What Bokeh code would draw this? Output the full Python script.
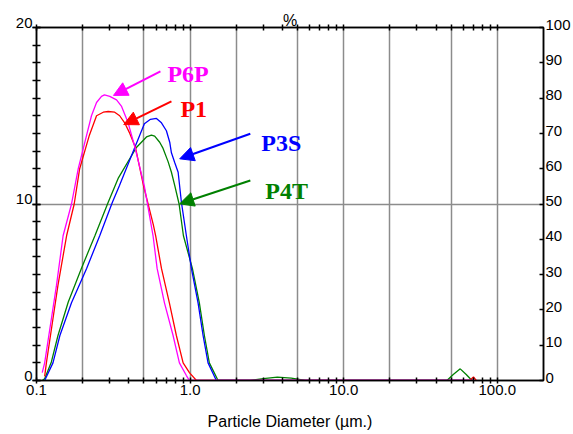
from bokeh.plotting import figure
from bokeh.models import (FixedTicker, LogAxis, LinearAxis, Range1d, Arrow, NormalHead,
                          ColumnDataSource, PrintfTickFormatter)
from bokeh.core.properties import value
from bokeh.embed import file_html
from bokeh.resources import INLINE

# ---------------- data ----------------
X_MIN, X_MAX = 0.1, 200.0
LEFT_MIN, LEFT_MAX = 0, 20
RIGHT_MIN, RIGHT_MAX = 0, 100

x_major_ticks = [0.1, 1.0, 10.0, 100.0]
x_minor_ticks = [0.2, 0.3, 0.4, 0.5, 0.6, 0.7, 0.8, 0.9,
                 2, 3, 4, 5, 6, 7, 8, 9,
                 20, 30, 40, 50, 60, 70, 80, 90]
x_grid_ticks = [0.2, 0.5, 1, 2, 5, 10, 20, 50, 100]
left_ticks = [0, 10, 20]
left_labels = ["0", "10", "20"]
left_minor = list(range(0, 21))
right_ticks = [0, 10, 20, 30, 40, 50, 60, 70, 80, 90, 100]
right_labels = ["0", "10", "20", "30", "40", "50", "60", "70", "80", "90", "100"]
y_grid_ticks = [10]

# P6P (magenta)
p6p_d = [0.109, 0.113, 0.125, 0.135, 0.149, 0.169, 0.187, 0.212, 0.228, 0.246, 0.265, 0.277,
         0.300, 0.332, 0.357, 0.395, 0.441, 0.504, 0.574, 0.610, 0.681, 0.775, 0.852, 0.946,
         0.990, 70.0]
p6p_v = [0.45, 1.0, 3.5, 5.4, 8.2, 10.0, 12.0, 13.9, 15.0, 15.75, 16.1, 16.18,
         16.1, 15.9, 15.55, 14.6, 13.1, 11.0, 8.2, 6.35, 4.4, 2.55, 1.0, 0.28,
         0.0, 0.0]
# P1 (red)
p1_d = [0.113, 0.116, 0.128, 0.138, 0.157, 0.176, 0.191, 0.221, 0.246, 0.272, 0.293, 0.323,
        0.348, 0.375, 0.405, 0.441, 0.497, 0.577, 0.597, 0.651, 0.733, 0.814, 0.901, 0.990,
        1.10, 66.0, 70.0, 73.0]
p1_v = [0.23, 1.0, 3.5, 5.4, 8.2, 10.0, 12.0, 13.9, 15.0, 15.2, 15.24, 15.2,
        15.0, 14.6, 14.0, 13.2, 11.05, 8.8, 8.2, 6.35, 4.4, 2.55, 1.0, 0.45,
        0.0, 0.0, 0.2, 0.0]
# P3S (blue)
p3s_d = [0.113, 0.128, 0.142, 0.169, 0.212, 0.258, 0.312, 0.347, 0.441, 0.504, 0.552, 0.604,
         0.651, 0.701, 0.737, 0.756, 0.794, 0.836, 0.878, 0.946, 1.020, 1.127, 1.215, 1.309,
         1.483, 70.0]
p3s_v = [0.0, 1.0, 2.55, 4.4, 6.35, 8.2, 10.1, 11.05, 13.3, 14.55, 14.8, 14.85,
         14.6, 14.15, 13.5, 12.9, 12.35, 11.8, 10.1, 8.2, 6.35, 4.4, 2.55, 1.0,
         0.0, 0.0]
# P4T (green)
p4t_d = [0.109, 0.113, 0.125, 0.138, 0.161, 0.196, 0.240, 0.293, 0.340, 0.447, 0.520, 0.560,
         0.588, 0.634, 0.667, 0.719, 0.756, 0.794, 0.848, 0.905, 1.035, 1.149, 1.239, 1.335,
         1.521, 2.47, 3.0, 3.7, 4.56, 5.63, 47.0, 51.7, 57.4, 62.8, 68.4, 70.0]
p4t_v = [0.0, 0.1, 1.05, 2.55, 4.45, 6.35, 8.2, 10.1, 11.45, 13.2, 13.8, 13.9,
         13.85, 13.5, 13.15, 12.4, 11.8, 11.05, 10.0, 8.2, 6.35, 4.4, 2.55, 1.0,
         0.0, 0.0, 0.11, 0.19, 0.14, 0.0, 0.0, 0.34, 0.66, 0.34, 0.0, 0.0]

series_names = ["P4T", "P3S", "P1", "P6P"]
series_colors = ["#008000", "#0000ff", "#ff0000", "#ff00ff"]
series_d = [p4t_d, p3s_d, p1_d, p6p_d]
series_v = [p4t_v, p3s_v, p1_v, p6p_v]

# annotations (label text position and arrow start/end, in data units)
ann_names = ["P6P", "P1", "P3S", "P4T"]
ann_colors = ["#ff00ff", "#ff0000", "#0000ff", "#008000"]
ann_text_d = [0.712, 0.865, 2.91, 3.09]
ann_text_v = [17.39, 15.41, 13.48, 10.73]
arrow_start_d = [0.641, 0.756, 2.467, 2.467]
arrow_start_v = [17.52, 15.81, 13.98, 11.33]
arrow_end_d = [0.317, 0.370, 0.856, 0.856]
arrow_end_v = [16.15, 14.5, 12.56, 10.01]

x_title = "Particle Diameter (µm.)"
top_title = "%"

# ---------------- figure ----------------
SANS = "Liberation Sans"
p = figure(width=573, height=434, x_axis_type="log",
           x_range=Range1d(X_MIN, X_MAX), y_range=Range1d(LEFT_MIN, LEFT_MAX),
           output_backend="svg", toolbar_location=None,
           min_border_left=36, min_border_right=29, min_border_top=27, min_border_bottom=54,
           background_fill_color="white", border_fill_color="white",
           outline_line_color="black", outline_line_width=1.5)
p.extra_y_ranges = {"right": Range1d(RIGHT_MIN, RIGHT_MAX)}

# grids
p.xgrid.ticker = FixedTicker(ticks=x_grid_ticks)
p.ygrid.ticker = FixedTicker(ticks=y_grid_ticks)
for g in (p.xgrid[0], p.ygrid[0]):
    g.grid_line_color = "#8c8c8c"
    g.grid_line_width = 1.5


def style_axis(ax, t_in, t_out, m_in, m_out):
    ax.major_tick_in = t_in
    ax.major_tick_out = t_out
    ax.minor_tick_in = m_in
    ax.minor_tick_out = m_out
    ax.axis_line_width = 1.5
    ax.axis_line_color = "black"
    ax.major_tick_line_color = "black"
    ax.minor_tick_line_color = "black"
    ax.major_tick_line_width = 1.5
    ax.minor_tick_line_width = 1.5
    ax.major_label_text_font = SANS
    ax.major_label_text_font_size = "15px"
    ax.major_label_text_color = "black"
    ax.axis_label_text_font = SANS
    ax.axis_label_text_font_size = "16px"
    ax.axis_label_text_font_style = "normal"
    ax.axis_label_text_color = "black"


# bottom axis
bx = p.below[0]
bx.ticker = FixedTicker(ticks=x_major_ticks, minor_ticks=x_minor_ticks)
bx.formatter = PrintfTickFormatter(format="%.1f")
style_axis(bx, 3, 3, 3, 3)
bx.major_label_standoff = 1
bx.axis_label = x_title
bx.axis_label_standoff = 15

# left axis: labels sit just above their ticks (empty second line lifts them)
ly = p.left[0]
ly.ticker = FixedTicker(ticks=left_ticks, minor_ticks=left_minor)
style_axis(ly, 4, 4, 4, 4)
ly.major_label_standoff = 0
ly.major_label_overrides = {t: s + "\n" for t, s in zip(left_ticks, left_labels)}
ly.major_label_text_line_height = 0.6

# top axis
tx = LogAxis(ticker=FixedTicker(ticks=x_major_ticks, minor_ticks=x_minor_ticks))
style_axis(tx, 3, 3, 3, 3)
tx.major_label_text_font_size = "0px"
tx.major_label_text_color = None
tx.major_label_standoff = 0
tx.axis_label = top_title
tx.axis_label_standoff = -4
p.add_layout(tx, "above")

# right axis
ry = LinearAxis(y_range_name="right", ticker=FixedTicker(ticks=right_ticks, minor_ticks=[]))
style_axis(ry, 4, 0, 0, 0)
ry.major_label_standoff = 2
ry.major_label_overrides = {t: s + "\n" for t, s in zip(right_ticks, right_labels)}
ry.major_label_text_line_height = 0.4
p.add_layout(ry, "right")

# curves
for name, c, d, v in zip(series_names, series_colors, series_d, series_v):
    p.line(d, v, line_color=c, line_width=1.3)

# arrows
for c, xs, ys, xe, ye in zip(ann_colors, arrow_start_d, arrow_start_v, arrow_end_d, arrow_end_v):
    p.add_layout(Arrow(end=NormalHead(size=14, fill_color=c, line_color=c, line_width=1),
                       x_start=xs, y_start=ys, x_end=xe, y_end=ye,
                       line_color=c, line_width=2))

# annotation texts
ann_src = ColumnDataSource(dict(x=ann_text_d, y=ann_text_v, t=ann_names, c=ann_colors))
p.text(x="x", y="y", text="t", text_color="c", source=ann_src,
       text_font=value("Liberation Serif"), text_font_style="bold", text_font_size="24px",
       text_align="left", text_baseline="alphabetic")

open("out.html", "w").write(file_html(p, INLINE))
